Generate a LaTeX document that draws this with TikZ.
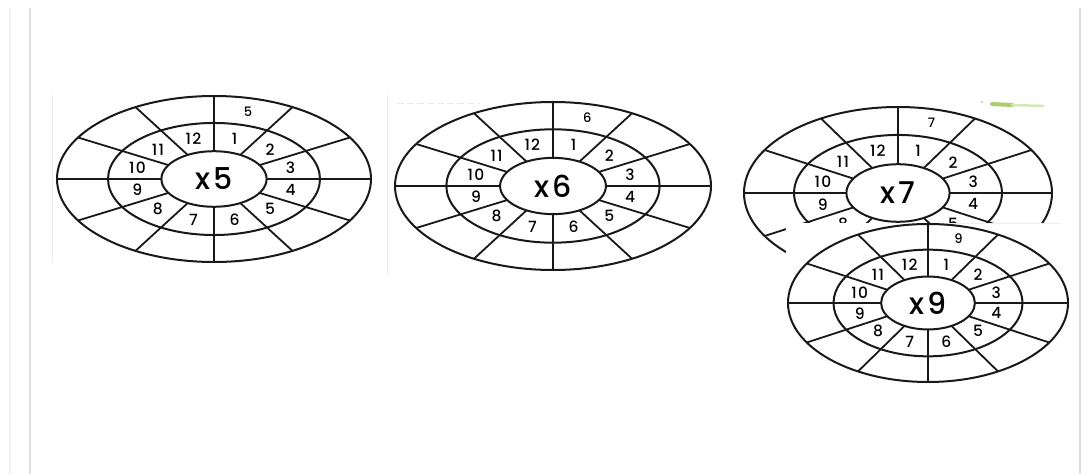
\documentclass[tikz,border=0pt]{standalone}
\usepackage{fontspec}
\setmainfont{Poppins}[UprightFont=* Medium, LetterSpace=8]
\usepackage{tikz}
\usetikzlibrary{calc}
\definecolor{edgegray}{RGB}{222, 222, 222}
\definecolor{logogreen}{RGB}{130, 185, 50}

% one times-table wheel: name, centre, outer x radius, outer y radius, factor
\newcommand{\timeswheel}[5]{%
  \begin{scope}[shift={#2}]
    \pgfmathsetmacro\irx{0.335*#3}\pgfmathsetmacro\iry{0.335*#4}
    \pgfmathsetmacro\mrx{0.675*#3}\pgfmathsetmacro\mry{0.675*#4}
    \pgfmathsetmacro\lrx{0.505*#3}\pgfmathsetmacro\lry{0.505*#4}
    \pgfmathsetmacro\orx{0.84*#3}\pgfmathsetmacro\ory{0.84*#4}
    \fill[white] (0,0) ellipse [x radius=#3pt, y radius=#4pt];
    \draw[ring] (0,0) ellipse [x radius=#3pt, y radius=#4pt];
    \draw[ring] (0,0) ellipse [x radius=\mrx pt, y radius=\mry pt];
    \draw[ring] (0,0) ellipse [x radius=\irx pt, y radius=\iry pt];
    \foreach \a in {0,30,...,330}
      \draw[spoke] (\a:\irx pt and \iry pt) -- (\a:#3pt and #4pt);
    \foreach \k [evaluate=\k as \t using 105-30*\k] in {1,...,12}
      \node[midnum] (#1-n\k) at (\t:\lrx pt and \lry pt) {\k};
    \node[outnum] (#1-top) at (75:\orx pt and \ory pt) {#5};
    \node[centre] (#1-c) at (0,0) {x\hspace{3pt}#5};
  \end{scope}}

\begin{document}
\begin{tikzpicture}[
    x=1pt, y=1pt,
    ring/.style   = {line width=2pt, draw=black!90},
    spoke/.style  = {line width=1.8pt, draw=black!90},
    midnum/.style = {font=\fontsize{15.5}{15.5}\selectfont, inner sep=0pt},
    outnum/.style = {font=\fontsize{13}{13}\selectfont, inner sep=0pt},
    centre/.style = {font=\fontsize{30}{30}\selectfont, inner sep=0pt},
    frame/.style  = {draw=edgegray, line width=1.2pt},
  ]
  \fill[white] (0,0) rectangle (1091,474);
  \useasboundingbox (0,0) rectangle (1091,474);

  % page frame
  \draw[frame, draw=edgegray!40] (10,466) -- (10,0);
  \draw[frame] (30,466) -- (30,0);
  \draw[frame] (1080,466) -- (1080,0);

  % faint edges of the pasted pictures
  \draw[edgegray!60, line width=0.8pt] (52,379) -- (52,212);
  \draw[edgegray!60, line width=0.8pt] (387,379) -- (387,199);
  \draw[olive!15, line width=1pt, dash pattern=on 7pt off 3pt] (397,370) -- (480,370);
  \fill[logogreen!60] (982,372) circle (1.2pt);
  \draw[logogreen!70, line width=4pt, line cap=round] (992,370) -- (1012,369);
  \draw[logogreen!35, line width=2.5pt, line cap=round] (1012,369) -- (1043,368);

  \timeswheel{w5}{(214,295)}{157}{83}{5}
  \timeswheel{w6}{(553,288)}{158}{84}{6}
  \timeswheel{w7}{(898,281)}{154}{86}{7}

  % the x9 picture is pasted over the x7 wheel
  \fill[white] (786,251) rectangle (1076,86);
  \draw[edgegray!50, line width=0.6pt] (932,251) -- (1060,251);
  \timeswheel{w9}{(928,171)}{140}{79}{9}
\end{tikzpicture}
\end{document}
